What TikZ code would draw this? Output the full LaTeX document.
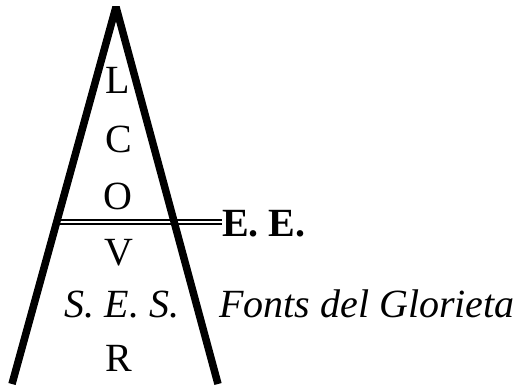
\documentclass[tikz,border=0pt]{standalone}
\usepackage{fontspec}
\setmainfont{Liberation Serif}
\usetikzlibrary{positioning,calc}

\begin{document}
\begin{tikzpicture}[
    x=1pt, y=-1pt,
    lett/.style={anchor=base, inner sep=0pt, font=\fontsize{40}{44}\selectfont},
    side/.style={line width=7.5pt, line join=bevel},
    band/.style={double, line width=1.5pt, double distance=2.2pt}
]
\useasboundingbox (0,0) rectangle (522,388);
% letters inside the triangle
\node[lett] (l) at (118,93) {L};
\node[lett] (c) at (119,152) {C};
\node[lett] (o) at (118,209) {O};
\node[lett] (v) at (119,265) {V};
\node[lett] (ses) at (122,317) {\itshape S. E. S.};
\node[lett] (r) at (119,371) {R};
% labels on the right
\node[lett, anchor=base west] (ee) at (222,236) {\bfseries E. E.};
\node[lett, anchor=base west] (fonts) at (219,317) {\itshape Fonts del Glorieta};

\coordinate (band0) at (56,222);
\draw[band] (band0) -- (ee.west |- band0);

\draw[side] (12,384) -- (116,7) -- (218,384);
\end{tikzpicture}
\end{document}
